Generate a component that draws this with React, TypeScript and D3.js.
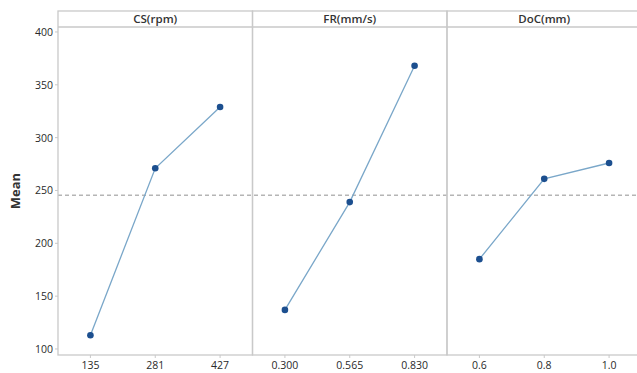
import * as d3 from 'd3';

const factors = ['CS(rpm)', 'FR(mm/s)', 'DoC(mm)'];
const levels = [
  ['135', '281', '427'],
  ['0.300', '0.565', '0.830'],
  ['0.6', '0.8', '1.0'],
];
const csMeans = [113, 271, 329];
const frMeans = [137, 239, 368];
const docMeans = [185, 261, 276];
const seriesMeans = [csMeans, frMeans, docMeans];
const grandMean = 245.5;
const yTicks = [100, 150, 200, 250, 300, 350, 400];

const W = 637;
const H = 373;
const margin = { top: 11, left: 58, bottom: 18 };
const stripH = 16;
const panelW = 194.5;
const plotTop = margin.top + stripH;
const plotBottom = H - margin.bottom;

const font = '"Open Sans", "Noto Sans", sans-serif';
const frameColor = '#c9c9c9';

export default function App() {
  const y = d3.scaleLinear().domain([94.3, 404.7]).range([plotBottom, plotTop]);
  const panelX = d3
    .scaleBand<number>()
    .domain([0, 1, 2])
    .range([margin.left, margin.left + panelW * 3])
    .paddingInner(0)
    .paddingOuter(0);
  const line = d3.line<[number, number]>().x(d => d[0]).y(d => d[1]);

  return (
    <svg
      width={W}
      height={H}
      style={{ position: 'absolute', left: 0, top: 0, background: '#fff' }}
      fontFamily={font}
    >
      {/* grand mean reference */}
      <line
        x1={margin.left}
        x2={W}
        y1={y(grandMean)}
        y2={y(grandMean)}
        stroke="#b5b5b5"
        strokeWidth={1.3}
        strokeDasharray="4,3"
      />

      {factors.map((f, i) => {
        const x0 = panelX(i)!;
        const x = d3
          .scalePoint<string>()
          .domain(levels[i])
          .range([x0, x0 + panelW])
          .padding(0.5);
        const pts: [number, number][] = levels[i].map((l, j) => [x(l)!, y(seriesMeans[i][j])]);
        return (
          <g key={f}>
            <rect x={x0} y={margin.top} width={panelW} height={plotBottom - margin.top} fill="none" stroke={frameColor} strokeWidth={1.3} />
            <line x1={x0} x2={x0 + panelW} y1={plotTop} y2={plotTop} stroke={frameColor} strokeWidth={1.3} />
            <text x={x0 + panelW / 2} y={margin.top + 12} textAnchor="middle" fontSize={11.5} fontWeight={600} fill="#333">
              {f}
            </text>
            {levels[i].map(l => (
              <g key={l}>
                <line x1={x(l)} x2={x(l)} y1={plotBottom} y2={plotBottom + 3} stroke={frameColor} />
                <text x={x(l)} y={plotBottom + 14} textAnchor="middle" fontSize={10.5} fontWeight={500} fill="#2a2a2a">
                  {l}
                </text>
              </g>
            ))}
            <path d={line(pts)!} fill="none" stroke="#7aa7c9" strokeWidth={1.3} />
            {pts.map((p, j) => (
              <circle key={j} cx={p[0]} cy={p[1]} r={3.3} fill="#1c4f8f" />
            ))}
          </g>
        );
      })}

      {/* y axis */}
      {yTicks.map(t => (
        <g key={t}>
          <line x1={margin.left - 3} x2={margin.left} y1={y(t)} y2={y(t)} stroke={frameColor} />
          <text x={margin.left - 5} y={y(t) + 4} textAnchor="end" fontSize={10.5} fontWeight={500} fill="#2a2a2a">
            {t}
          </text>
        </g>
      ))}
      <text
        transform={`translate(20,${(plotTop + plotBottom) / 2}) rotate(-90)`}
        textAnchor="middle"
        fontSize={13}
        fontWeight={700}
        fill="#333"
      >
        Mean
      </text>
    </svg>
  );
}
